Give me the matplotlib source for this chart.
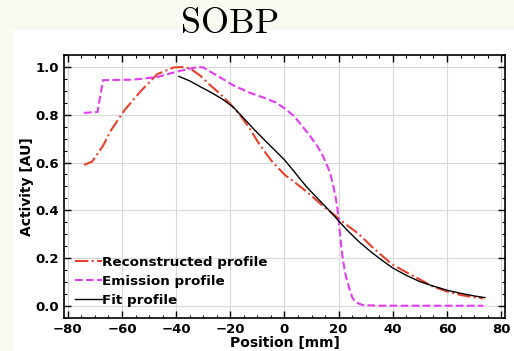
import matplotlib.pyplot as plt
from matplotlib.patches import Rectangle
from matplotlib.ticker import MultipleLocator

# Reconstructed profile
reco_x = [-74, -71, -67, -64, -59, -53, -47, -41, -38, -35, -31.2, -28, -23.9, -20, -16.5, -13, -9.2, -5, 0, 4, 8, 12, 15, 19, 23, 27.5, 32, 36, 39.6, 45, 50, 54.3, 60, 65, 70, 73.4]
reco_y = [0.59, 0.604, 0.67, 0.736, 0.82, 0.90, 0.97, 0.998, 1.0, 0.995, 0.965, 0.93, 0.889, 0.845, 0.80, 0.745, 0.675, 0.61, 0.549, 0.515, 0.479, 0.44, 0.41, 0.375, 0.338, 0.30, 0.25, 0.21, 0.174, 0.14, 0.11, 0.083, 0.06, 0.045, 0.035, 0.031]

# Emission profile
emis_x = [-74, -69, -67, -62, -56, -47, -40, -35, -32, -30, -25, -19, -13, -6.7, -3, 0, 3.5, 6.7, 9.5, 12.2, 14.3, 15.9, 17, 17.8, 18.8, 19.6, 20.5, 21.5, 22.7, 24, 25, 26.4, 28.8, 35, 45, 55, 65, 73.4]
emis_y = [0.808, 0.812, 0.945, 0.946, 0.947, 0.958, 0.98, 0.993, 1.0, 0.998, 0.965, 0.924, 0.893, 0.868, 0.85, 0.827, 0.795, 0.75, 0.71, 0.667, 0.625, 0.583, 0.55, 0.514, 0.46, 0.403, 0.30, 0.195, 0.12, 0.07, 0.035, 0.014, 0.003, 0.0, 0.0, 0.0, 0.0, 0.0]

# Fit profile
fit_x = [-39, -35, -31, -27, -23, -19, -15, -11, -7, -3, 0, 4, 8, 12, 16, 19, 23, 27.5, 32, 36, 40, 45, 50, 55, 60, 65, 70, 74]
fit_y = [0.961, 0.942, 0.917, 0.893, 0.866, 0.833, 0.785, 0.736, 0.69, 0.645, 0.611, 0.556, 0.50, 0.452, 0.405, 0.368, 0.318, 0.268, 0.225, 0.19, 0.158, 0.127, 0.101, 0.082, 0.065, 0.052, 0.041, 0.034]

fig = plt.figure(figsize=(5.14, 3.51), dpi=100)
fig.patch.set_facecolor('#f9f8f1')
fig.patches.append(Rectangle((13 / 514, 0), 1, (351 - 30) / 351, transform=fig.transFigure,
                             facecolor='white', edgecolor='none', zorder=-1))

ax = fig.add_axes([0.1245, 0.095, 0.858, 0.748])
ax.plot(reco_x, reco_y, linestyle='-.', color='#e8412b', lw=1.5, label='Reconstructed profile')
ax.plot(emis_x, emis_y, linestyle='--', color='#e33cf2', lw=1.5, label='Emission profile')
ax.plot(fit_x, fit_y, linestyle='-', color='black', lw=1.0, label='Fit profile')

ax.set_xlim(-81.4, 81.4)
ax.set_ylim(-0.05, 1.05)
ax.xaxis.set_major_locator(MultipleLocator(20))
ax.xaxis.set_minor_locator(MultipleLocator(5))
ax.yaxis.set_major_locator(MultipleLocator(0.2))
ax.yaxis.set_minor_locator(MultipleLocator(0.05))
ax.tick_params(which='both', direction='in', top=True, right=True, labelsize=9.5)
ax.tick_params(which='major', length=5, width=1)
ax.tick_params(which='minor', length=2.5, width=0.8)
for lab in ax.get_xticklabels() + ax.get_yticklabels():
    lab.set_fontweight('bold')
for sp in ax.spines.values():
    sp.set_linewidth(1.2)
ax.grid(True, color='#d9d9d9', lw=0.8)

ax.set_xlabel('Position [mm]', fontsize=10, fontweight='bold', labelpad=0)
ax.set_ylabel('Activity [AU]', fontsize=10, fontweight='bold', labelpad=1)

ax.legend(loc='lower left', frameon=False, prop={'size': 9.7, 'weight': 'bold'},
          handlelength=2.0, handletextpad=0.05, labelspacing=0.45,
          borderaxespad=0.45, borderpad=0.35)

fig.text(230 / 514, 1 - 24 / 351, 'SOBP', fontname='cmr10', fontsize=26,
         ha='center', va='center')

fig.savefig('out.png', dpi=100, facecolor=fig.get_facecolor())
